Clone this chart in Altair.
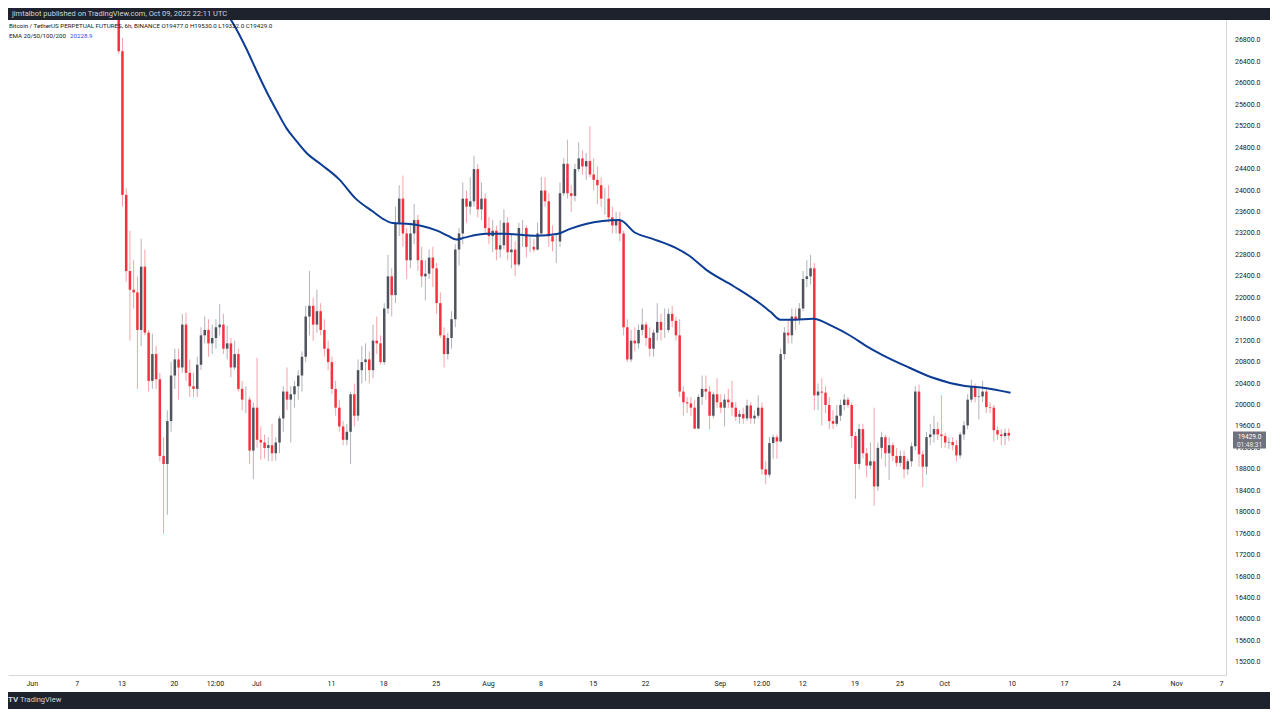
import altair as alt
import pandas as pd

# ---------------- data (12h candles) ----------------
# time is counted in days since 2022-06-01 00:00 UTC
first_candle_day = 11.5          # 2022-06-12 12:00
candle_step_days = 0.5
first_open = 28250

closes = [
    26600, 23920, 22500, 22150, 22100, 21400, 22580, 21350, 20450, 20950,
    20480, 19050, 18900, 19700, 20550, 20850, 20700, 21500, 20600, 20350,
    20300, 20750, 21300, 21400, 21150, 21250, 21450, 21500, 21050, 21150,
    20700, 20950, 20300, 20100, 20100, 19150, 19950, 19350, 19300, 19200,
    19250, 19100, 19300, 19750, 20250, 20100, 20200, 20350, 20550, 20900,
    21650, 21850, 21500, 21750, 21400, 21050, 20800, 20300, 19950, 19600,
    19350, 19500, 20200, 19800, 20650, 20800, 20850, 20650, 21200, 21150,
    20800, 21800, 22400, 22050, 23400, 23850, 23200, 22700, 23200, 23450,
    22700, 22400, 22450, 22750, 22550, 21900, 21300, 20950, 21250, 21600,
    22900, 23200, 23850, 23700, 23800, 24400, 23650, 23850, 23300, 23150,
    23250, 22900, 22980, 23400, 22850, 22900, 22620, 23300, 23300, 22950,
    22950, 22900, 23200, 24000, 23800, 23150, 23050, 23050, 23950, 24500,
    23950, 23900, 24400, 24600, 24450, 24550, 24300, 24200, 24100, 23850,
    23850, 23500, 23350, 23450, 23200, 21450, 20850, 21200, 21150, 21400,
    21500, 21250, 21050, 21350, 21550, 21400, 21400, 21700, 21570, 21300,
    20250, 20050, 20030, 19950, 19560, 20150, 20300, 20250, 19800, 20200,
    20050, 19950, 20100, 20050, 19950, 19780, 19830, 19750, 19990, 19750,
    19800, 19950, 18800, 18700, 19290, 19400, 19320, 20950, 21350, 21300,
    21650, 21600, 21800, 22350, 22400, 22550, 20180, 20250, 20230, 20000,
    19700, 19650, 19800, 20000, 20100, 20000, 19420, 18900, 19550, 19100,
    18870, 18950, 18480, 19200, 19400, 19100, 19250, 19050, 18920, 19050,
    18800, 18950, 19230, 20250, 19080, 18850, 19400, 19450, 19550, 19450,
    19420, 19300, 19310, 19250, 19060, 19450, 19620, 20100, 20340, 20150,
    20160, 20250, 19960, 19950, 19530, 19450, 19420, 19480, 19429,
]
highs = [
    28500, 26850, 24050, 23250, 22700, 22400, 23100, 22900, 21400, 21330,
    21100, 20600, 19400, 19900, 20800, 21050, 21050, 21700, 21720, 20850,
    20600, 20900, 21450, 21650, 21600, 21500, 21600, 21880, 21700, 21480,
    21250, 21200, 21050, 20450, 20350, 20150, 20050, 20880, 19600, 19450,
    19400, 19650, 19400, 19800, 20350, 20700, 20350, 20450, 20650, 21000,
    21850, 22500, 22000, 22150, 21900, 21600, 21200, 20900, 20450, 20100,
    19700, 19650, 20250, 20400, 20850, 21100, 21150, 21000, 21500, 21650,
    21300, 21900, 22800, 22550, 23700, 24100, 24280, 23300, 23400, 23750,
    23550, 22950, 22700, 22900, 22950, 22650, 22100, 21450, 21350, 21750,
    23000, 23300, 24150, 24000, 24250, 24650, 24500, 24150, 23950, 23500,
    23450, 23350, 23450, 23650, 23500, 23200, 23050, 23400, 23450, 23350,
    23150, 23100, 23400, 24250, 24250, 23950, 23350, 23200, 24150, 24600,
    24950, 24100, 24500, 24900, 24750, 24700, 25200, 24600, 24450, 24250,
    24050, 24100, 23700, 23600, 23600, 23250, 21600, 21400, 21450, 21500,
    21800, 21550, 21450, 21400, 21900, 21700, 21800, 21800, 21850, 21650,
    21600, 20350, 20150, 20150, 20100, 20200, 20550, 20550, 20350, 20250,
    20500, 20200, 20200, 20300, 20450, 20050, 19900, 19950, 20100, 20050,
    19900, 20180, 20050, 18950, 19400, 19450, 19450, 21050, 21450, 21600,
    21800, 21800, 21900, 22500, 22700, 22800, 22650, 20400, 20500, 20350,
    20150, 19900, 20000, 20100, 20200, 20150, 20050, 19500, 19650, 19650,
    19200, 19300, 19950, 19300, 19500, 19450, 19400, 19300, 19200, 19150,
    19150, 19000, 19300, 20350, 20380, 19150, 19500, 19650, 19800, 19680,
    20180, 19480, 19400, 19400, 19350, 19500, 19700, 20200, 20470, 20400,
    20300, 20450, 20300, 20050, 20000, 19600, 19550, 19560, 19560,
]
lows = [
    26550, 23700, 22300, 21200, 21800, 20300, 21100, 21300, 20250, 20300,
    20300, 18950, 17600, 17950, 19500, 20300, 20100, 20600, 20450, 20150,
    20150, 20150, 20650, 21150, 20900, 20950, 21050, 21300, 20950, 20850,
    20520, 20650, 20250, 19900, 19850, 18900, 18620, 19200, 18980, 19000,
    18950, 18950, 18960, 19100, 19500, 19900, 19300, 19950, 20100, 20250,
    20800, 21300, 21200, 21350, 21300, 20900, 20650, 20200, 19800, 19500,
    19250, 19250, 18900, 19600, 19700, 20400, 20450, 20400, 20500, 20950,
    20750, 20750, 21700, 21650, 21900, 23150, 22950, 22350, 22550, 23000,
    22500, 22200, 21950, 22350, 22200, 21700, 21250, 20700, 20850, 21050,
    21450, 22600, 23000, 23400, 23550, 23700, 23500, 23450, 23200, 23000,
    22850, 22700, 22750, 22900, 22700, 22550, 22400, 22580, 22950, 22750,
    22850, 22850, 22880, 23150, 23700, 22950, 22870, 22650, 22950, 23900,
    23850, 23600, 23800, 24350, 24300, 24200, 24250, 24000, 23750, 23700,
    23550, 23400, 23200, 23200, 23050, 21300, 20800, 20800, 21000, 21050,
    21300, 21100, 20900, 20900, 21200, 21200, 21250, 21350, 21450, 21200,
    20150, 19800, 19850, 19800, 19550, 19550, 20000, 20100, 19550, 19750,
    19950, 19850, 19600, 19950, 19800, 19700, 19650, 19650, 19700, 19650,
    19650, 19750, 18700, 18520, 18650, 19000, 19000, 19300, 20850, 21150,
    21150, 21400, 21500, 21750, 22200, 22250, 19900, 19900, 19620, 19850,
    19550, 19550, 19600, 19700, 19900, 19950, 19200, 18250, 18800, 19000,
    18650, 18800, 18120, 18400, 19000, 18850, 18600, 18950, 18850, 18850,
    18630, 18700, 18850, 19150, 18850, 18470, 18700, 19250, 19300, 19350,
    19200, 19200, 19180, 19150, 18950, 19000, 19350, 19550, 20050, 20050,
    19730, 20050, 19850, 19850, 19320, 19350, 19250, 19250, 19330,
]

# EMA 200 line (day since Jun 1, value)
ema_days = [25.75, 27.47, 28.79, 30.11, 31.43, 32.75, 34.07, 35.39, 36.71, 38.69,
            41.07, 43.31, 45.56, 47.01, 48.20, 50.57, 52.16, 54.27, 55.59, 56.78,
            57.84, 59.55, 60.87, 63.12, 67.48, 70.38, 71.97, 74.08, 76.32, 78.57,
            80.68, 82.93, 85.96, 87.81, 90.19, 93.89, 97.45, 98.77, 100.09, 102.07,
            104.45, 107.09, 109.33, 111.58, 113.69, 117.26, 120.29, 124.78, 127.42, 130.86]
ema_vals = [27383, 26982, 26618, 26217, 25835, 25489, 25161, 24924, 24706, 24487,
            24214, 23850, 23613, 23468, 23395, 23377, 23340, 23249, 23158, 23085,
            23122, 23176, 23194, 23194, 23158, 23194, 23285, 23377, 23431, 23449,
            23213, 23103, 22940, 22794, 22521, 22211, 21883, 21738, 21592, 21592,
            21610, 21465, 21301, 21100, 20936, 20700, 20518, 20354, 20318, 20229]

# axis ticks
price_ticks = list(range(15200, 26801, 400))
time_tick_days = [0, 6, 12, 19, 24.5, 30, 40, 47, 54, 61, 68, 75, 82, 92, 97.5,
                  103, 110, 116, 122, 131, 138, 145, 153, 159]
time_tick_labels = ['Jun', '7', '13', '20', '12:00', 'Jul', '11', '18', '25', 'Aug',
                    '8', '15', '22', 'Sep', '12:00', '12', '19', '25', 'Oct', '10',
                    '17', '24', 'Nov', '7']

header_text = "jimtalbot published on TradingView.com, Oct 09, 2022 22:11 UTC"
legend_line1 = "Bitcoin / TetherUS PERPETUAL FUTURES, 6h, BINANCE  O19477.0  H19530.0  L19332.0  C19429.0"
legend_line2 = "EMA 20/50/100/200"
ema_last_text = "20228.9"
last_price_text = "19429.0"
countdown_text = "01:48:31"
last_price = 19429.0

# ---------------- build tables ----------------
assert len(closes) == len(highs) == len(lows)
n = len(closes)
opens = [first_open] + closes[:-1]
days = [first_candle_day + i * candle_step_days + 0.125 for i in range(n)]
candles = pd.DataFrame({
    "day": days, "open": opens, "high": highs, "low": lows, "close": closes,
})
candles["dir"] = ["up" if c >= o else "down" for o, c in zip(opens, closes)]
ema_df = pd.DataFrame({"day": ema_days, "ema": ema_vals})
ticks_df = pd.DataFrame({"p": price_ticks, "lab": ["%.1f" % v for v in price_ticks]})

# ---------------- styling ----------------
FONT = "Roboto"
W = 1218          # plot width
AXW = 44          # price axis width
H = 655           # plot height
TOTAL_W = W + AXW
DARK = "#1e222d"
TEXT = "#131722"
LINE = "#d6d8de"

x_scale = alt.Scale(domain=[-2.509, 159.0], nice=False, zero=False)
y_scale = alt.Scale(domain=[14963, 27182], nice=False, zero=False)

label_expr = ("[" + ",".join("'%s'" % s for s in time_tick_labels) + "][indexof(["
              + ",".join(str(v) for v in time_tick_days) + "], datum.value)]")

x_axis = alt.Axis(values=time_tick_days, labelExpr=label_expr, title=None, grid=False,
                  ticks=False, domainColor=LINE, labelColor=TEXT, labelFont=FONT,
                  labelFontSize=7, labelPadding=4, minExtent=17, maxExtent=17,
                  labelFlush=False, labelOverlap=False)
# price axis: line only; its labels are drawn by a text layer so none are thinned out
y_axis = alt.Axis(orient="right", values=price_ticks, title=None, grid=False,
                  ticks=False, labels=False, domainColor=LINE,
                  minExtent=AXW, maxExtent=AXW)

wick_colors = alt.Scale(domain=["up", "down"], range=["#b0b3bb", "#f6a3a9"])
body_colors = alt.Scale(domain=["up", "down"], range=["#50535e", "#f7303d"])

base = alt.Chart(candles)
wicks = base.mark_rule(strokeWidth=1, clip=True).encode(
    x=alt.X("day:Q", scale=x_scale, axis=x_axis),
    y=alt.Y("low:Q", scale=y_scale, axis=y_axis),
    y2="high:Q",
    color=alt.Color("dir:N", scale=wick_colors, legend=None),
)
bodies = base.mark_bar(width=2.5, clip=True).encode(
    x=alt.X("day:Q", title=None),
    y=alt.Y("open:Q", title=None),
    y2="close:Q",
    fill=alt.Fill("dir:N", scale=body_colors, legend=None),
)
ema_line = alt.Chart(ema_df).mark_line(color="#0c3c94", strokeWidth=2, clip=True,
                                       interpolate="monotone").encode(
    x=alt.X("day:Q", title=None),
    y=alt.Y("ema:Q", title=None),
)
price_labels = alt.Chart(ticks_df).mark_text(
    align="left", baseline="middle", font=FONT, fontSize=7, color=TEXT).encode(
    x=alt.value(W + 9), y=alt.Y("p:Q", title=None), text="lab:N")

def label(text, x, y, color=TEXT, size=6.2, weight="normal", align="left"):
    return alt.Chart(pd.DataFrame({"t": [text]})).mark_text(
        align=align, baseline="middle", font=FONT, fontSize=size, color=color,
        fontWeight=weight).encode(x=alt.value(x), y=alt.value(y), text="t:N")

leg1 = label(legend_line1, 1, 6)
leg2 = label(legend_line2, 1, 16)
leg3 = label(ema_last_text, 62, 16, color="#1e53e5")

lp = pd.DataFrame({"p": [last_price], "a": [last_price_text], "b": [countdown_text]})
price_box = alt.Chart(lp).mark_rect(color="#6f727d", yOffset=-4, y2Offset=13).encode(
    x=alt.value(W + 7), x2=alt.value(W + 40),
    y=alt.Y("p:Q", title=None), y2="p:Q",
)
price_txt = alt.Chart(lp).mark_text(align="center", baseline="middle", font=FONT,
                                    fontSize=6.5, color="white", dy=1).encode(
    x=alt.value(W + 23.5), y=alt.Y("p:Q", title=None), text="a:N")
count_txt = alt.Chart(lp).mark_text(align="center", baseline="middle", font=FONT,
                                    fontSize=6.5, color="#e8e9ec", dy=9).encode(
    x=alt.value(W + 23.5), y=alt.Y("p:Q", title=None), text="b:N")

main = alt.layer(wicks, bodies, ema_line, price_labels, leg1, leg2, leg3,
                 price_box, price_txt, count_txt).properties(
    width=W, height=H, view=alt.ViewBackground(fill="white", stroke=None))

top = label(header_text, 4, 6, color="#d1d4dc", size=7.5).properties(
    width=TOTAL_W, height=12, view=alt.ViewBackground(fill=DARK, stroke=None))

bottom = alt.layer(
    label("TV", 0, 8, color="#d1d4dc", size=8, weight="bold"),
    label("TradingView", 12, 8, color="#d1d4dc", size=7.5),
).properties(width=TOTAL_W, height=17, view=alt.ViewBackground(fill=DARK, stroke=None))

chart = alt.vconcat(top, main, bottom, spacing=0).properties(
    padding=0, background="white"
).configure_view(stroke=None)

chart.save("out.html", embed_options={"renderer": "svg", "actions": False})
